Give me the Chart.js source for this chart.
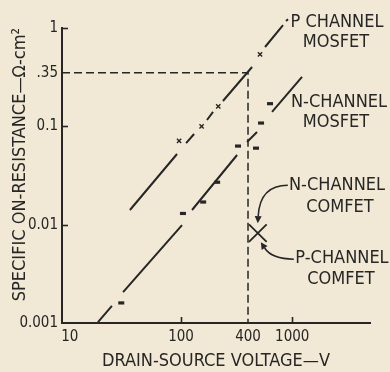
<!DOCTYPE html>
<html>
<head>
<meta charset="utf-8">
<script src="https://cdn.jsdelivr.net/npm/chart.js@4.4.1/dist/chart.umd.min.js"></script>
<style>
  html, body { margin: 0; padding: 0; background: #f1e9d5; }
  #wrap { width: 390px; height: 372px; position: relative; }
</style>
</head>
<body>
<div id="wrap"><canvas id="ronChart"></canvas></div>
<script>
// axis ranges and ticks
const xMin = 8.5, xMax = 5000;
const xTicks = [10, 100, 400, 1000];
const xTickMarks = [100, 1000];
const yTicks = [1, 0.35, 0.1, 0.01, 0.001];
const yTickLabels = ['1', '.35', '0.1', '0.01', '0.001'];
const yTickMarks = [1, 0.1, 0.01];

// measured devices (V, ohm-cm^2)
const pMosV = [96, 153, 216, 513];
const pMosR = [0.071, 0.10, 0.16, 0.54];
const nMosV = [29, 104, 158, 211, 325, 472, 524, 631];
const nMosR = [0.0016, 0.013, 0.017, 0.027, 0.063, 0.060, 0.108, 0.17];
const comfetV = [490];
const comfetR = [0.0082];

// trend lines, drawn as broken segments
const pFitV = [[34.7, 92], [111, 131], [171, 194], [238, 435], [569, 826], [879, 916]];
const pFitR = [[0.0141, 0.0523], [0.0676, 0.0835], [0.116, 0.140], [0.181, 0.401], [0.641, 1.07], [1.18, 1.23]];
const nFitV = [[17.9, 23.9], [30.1, 102], [125.5, 319], [392, 482], [658, 1224]];
const nFitR = [[0.00102, 0.00149], [0.00206, 0.0099], [0.0141, 0.0511], [0.0692, 0.0875], [0.140, 0.318]];

// 400 V / .35 reference lines
const guideV = [xMin, 400, 400];
const guideR = [0.35, 0.35, 0.001];

const INK = '#262626';
const FONT = "'Liberation Sans Narrow', 'DejaVu Sans Condensed', sans-serif";

function points(vs, rs) {
  return vs.map((v, i) => ({ x: v, y: rs[i] }));
}

// join segments with a null point so the line breaks between them
function segments(vs, rs) {
  const out = [];
  vs.forEach((seg, i) => {
    if (i > 0) out.push({ x: seg[0], y: null });
    seg.forEach((v, j) => out.push({ x: v, y: rs[i][j] }));
  });
  return out;
}

function fitLine(vs, rs) {
  return {
    data: segments(vs, rs),
    showLine: true,
    spanGaps: false,
    borderColor: INK,
    borderWidth: 2,
    pointRadius: 0,
    clip: false
  };
}

// inward tick marks, arrows and curve labels
const extras = {
  id: 'extras',
  afterDatasetsDraw(chart) {
    const { ctx, scales: { x, y }, chartArea: area } = chart;
    ctx.save();
    ctx.strokeStyle = INK;
    ctx.fillStyle = INK;
    ctx.lineWidth = 1.6;

    yTickMarks.forEach(v => {
      const py = Math.round(y.getPixelForValue(v)) + 0.5;
      ctx.beginPath();
      ctx.moveTo(area.left, py);
      ctx.lineTo(area.left + 6, py);
      ctx.stroke();
    });
    xTickMarks.forEach(v => {
      const px = Math.round(x.getPixelForValue(v)) + 0.5;
      ctx.beginPath();
      ctx.moveTo(px, area.bottom);
      ctx.lineTo(px, area.bottom - 6);
      ctx.stroke();
    });

    // curved pointers to the COMFET mark
    const cx = x.getPixelForValue(comfetV[0]);
    const cy = y.getPixelForValue(comfetR[0]);
    const arrow = (sx, sy, qx, qy, tx, ty) => {
      const ang = Math.atan2(ty - qy, tx - qx);
      const bx = tx - Math.cos(ang) * 7, by = ty - Math.sin(ang) * 7;
      ctx.lineWidth = 1.5;
      ctx.beginPath();
      ctx.moveTo(sx, sy);
      ctx.quadraticCurveTo(qx, qy, bx, by);
      ctx.stroke();
      ctx.beginPath();
      ctx.moveTo(tx, ty);
      ctx.lineTo(bx + Math.sin(ang) * 3.5, by - Math.cos(ang) * 3.5);
      ctx.lineTo(bx - Math.sin(ang) * 3.5, by + Math.cos(ang) * 3.5);
      ctx.closePath();
      ctx.fill();
    };
    arrow(cx + 30, cy - 48, cx + 2, cy - 48, cx, cy - 10);
    arrow(cx + 36, cy + 26, cx + 14, cy + 26, cx + 3, cy + 9);

    ctx.font = '18px ' + FONT;
    ctx.textAlign = 'center';
    ctx.textBaseline = 'middle';
    [
      ['P CHANNEL', 337, 22], ['MOSFET', 336, 42],
      ['N-CHANNEL', 339, 102], ['MOSFET', 336, 122],
      ['N-CHANNEL', 337, 185], ['COMFET', 340, 207],
      ['P-CHANNEL', 342, 258], ['COMFET', 341, 279]
    ].forEach(([t, tx, ty]) => ctx.fillText(t, tx, ty));
    ctx.restore();
  }
};

Chart.defaults.font.family = FONT;
Chart.defaults.color = INK;

new Chart(document.getElementById('ronChart'), {
  type: 'scatter',
  data: {
    datasets: [
      {
        data: points(guideV, guideR),
        showLine: true,
        borderColor: INK,
        borderWidth: 1.5,
        borderDash: [8, 4],
        pointRadius: 0
      },
      fitLine(pFitV, pFitR),
      fitLine(nFitV, nFitR),
      {
        data: points(pMosV, pMosR),
        pointStyle: 'crossRot',
        pointRadius: 3,
        borderColor: INK,
        borderWidth: 1.4
      },
      {
        data: points(nMosV, nMosR),
        pointStyle: 'line',
        pointRadius: 3,
        borderColor: INK,
        borderWidth: 3.2
      },
      {
        data: points(comfetV, comfetR),
        pointStyle: 'crossRot',
        pointRadius: 12.5,
        borderColor: INK,
        borderWidth: 1.8
      }
    ]
  },
  options: {
    responsive: true,
    maintainAspectRatio: false,
    animation: false,
    layout: { padding: { top: 28, right: 20, left: 0, bottom: 0 } },
    plugins: { legend: { display: false }, tooltip: { enabled: false } },
    scales: {
      x: {
        type: 'logarithmic',
        min: xMin,
        max: xMax,
        afterBuildTicks: s => { s.ticks = xTicks.map(v => ({ value: v })); },
        afterFit: s => { s.height = 49; },
        grid: { display: false, drawTicks: false },
        border: { display: true, color: INK, width: 2 },
        ticks: { padding: 5, font: { size: 15 }, color: INK, maxRotation: 0, callback: v => String(v) },
        title: { display: true, text: 'DRAIN-SOURCE VOLTAGE—V', font: { size: 18 }, color: INK, padding: { top: 0, bottom: 0 } }
      },
      y: {
        type: 'logarithmic',
        min: 0.001,
        max: 1,
        afterBuildTicks: s => { s.ticks = yTicks.map(v => ({ value: v })); },
        afterFit: s => { s.width = 62; },
        grid: { display: false, drawTicks: false },
        border: { display: true, color: INK, width: 2 },
        ticks: { padding: 4, font: { size: 15 }, color: INK, callback: v => yTickLabels[yTicks.indexOf(v)] },
        title: { display: true, text: 'SPECIFIC ON-RESISTANCE—Ω-cm²', align: 'end', font: { size: 18 }, color: INK, padding: { top: 10, bottom: 0 } }
      }
    }
  },
  plugins: [extras]
});
</script>
</body>
</html>
